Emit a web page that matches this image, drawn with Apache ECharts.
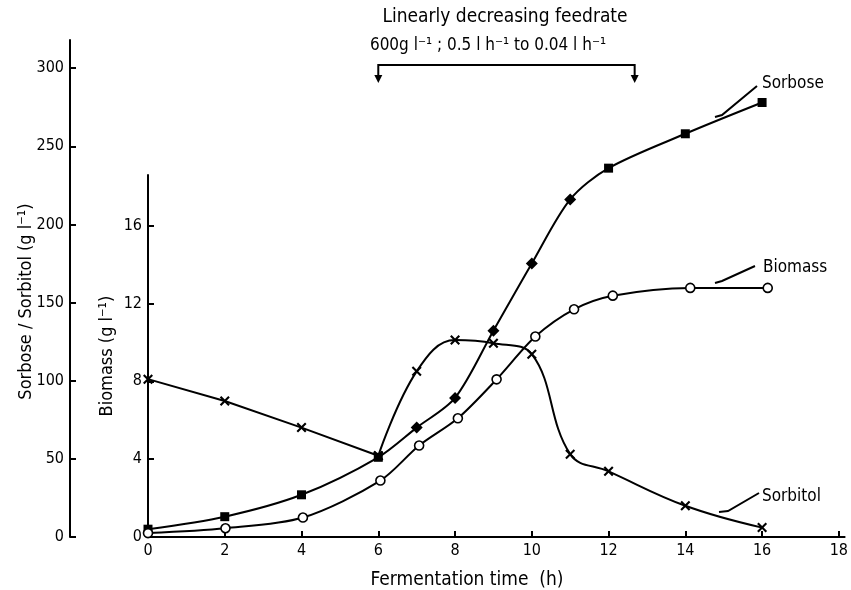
<!DOCTYPE html>
<html><head><meta charset="utf-8">
<script src="https://cdn.jsdelivr.net/npm/echarts@6/dist/echarts.min.js"></script>
<style>html,body{margin:0;padding:0;background:#fff}#c{width:851px;height:590px}</style>
</head><body><div id="c"></div>
<script>
// ---- data ----
const hours    = [0, 2, 4, 6, 7, 8, 9, 10, 11, 12, 14, 16];
const sorbose  = [5, 13, 27, 51, 70, 89, 132, 175, 216, 236, 258, 278];
const sorbitol = [101, 87, 70, 52, 106, 126, 124, 117, 53, 42, 20, 6];
const biomass  = [0.2, 0.45, 1.0, 2.9, 4.7, 6.1, 8.1, 10.3, 11.7, 12.4, 12.8, 12.8];
const xTicks = [0, 2, 4, 6, 8, 10, 12, 14, 16, 18];
const leftTicks = [0, 50, 100, 150, 200, 250, 300];
const bioTicks = [0, 4, 8, 12, 16];
const feedStart = 6, feedEnd = 12.68;

const FONT = "'DejaVu Sans Condensed', 'DejaVu Sans', sans-serif";
const pair = (ys, i0, i1) => hours.slice(i0, i1).map((h, k) => [h, ys.slice(i0, i1)[k]]);

const chart = echarts.init(document.getElementById('c'), null, {renderer: 'canvas'});
const axisCommon = {
  axisLine: {show: true, onZero: false, lineStyle: {color: '#000', width: 2}},
  axisTick: {show: true, inside: true, length: 6, lineStyle: {color: '#000', width: 2}},
  axisLabel: {color: '#000', fontSize: 16, fontFamily: FONT, margin: 6},
  splitLine: {show: false}
};
const xSymbol = 'path://M0,15L15,0L50,35L85,0L100,15L65,50L100,85L85,100L50,65L15,100L0,85L35,50Z';
const blackLine = {color: '#000', width: 2};

chart.setOption({
  animation: false,
  backgroundColor: '#fff',
  grid: [
    {left: 148, right: 0, top: 40, bottom: 53},
    {left: 148, right: 0, top: 175, bottom: 53}
  ],
  xAxis: [
    Object.assign({}, axisCommon, {
      gridIndex: 0, type: 'value', min: 0, max: 18.15,
      axisTick: Object.assign({}, axisCommon.axisTick, {customValues: xTicks}),
      axisLabel: Object.assign({}, axisCommon.axisLabel, {customValues: xTicks})
    }),
    {gridIndex: 1, type: 'value', min: 0, max: 18.15, show: false}
  ],
  yAxis: [
    Object.assign({}, axisCommon, {
      gridIndex: 0, type: 'value', min: 0, max: 318, position: 'left', offset: 78,
      axisTick: Object.assign({}, axisCommon.axisTick, {customValues: leftTicks}),
      axisLabel: Object.assign({}, axisCommon.axisLabel, {customValues: leftTicks}),
      name: 'Sorbose / Sorbitol (g l\u207B\u00B9)', nameLocation: 'middle', nameGap: 35,
      nameMoveOverlap: false,
      nameTextStyle: {color: '#000', fontSize: 18, fontFamily: FONT, padding: [0, 26, 0, 0]}
    }),
    Object.assign({}, axisCommon, {
      gridIndex: 1, type: 'value', min: 0, max: 18.6, position: 'left',
      axisTick: Object.assign({}, axisCommon.axisTick, {customValues: bioTicks}),
      axisLabel: Object.assign({}, axisCommon.axisLabel, {customValues: bioTicks}),
      name: 'Biomass (g l\u207B\u00B9)', nameLocation: 'middle', nameGap: 32,
      nameMoveOverlap: false,
      nameTextStyle: {color: '#000', fontSize: 18, fontFamily: FONT}
    })
  ],
  series: [
    {
      name: 'Sorbose', type: 'line', xAxisIndex: 0, yAxisIndex: 0, smooth: 0.3,
      data: pair(sorbose, 0, hours.length),
      symbol: v => (v[0] >= 7 && v[0] <= 11) ? 'diamond' : 'rect',
      symbolSize: v => (v[0] >= 7 && v[0] <= 11) ? 12 : 9,
      itemStyle: {color: '#000'}, lineStyle: blackLine, z: 3
    },
    {
      name: 'Sorbitol', type: 'line', xAxisIndex: 0, yAxisIndex: 0, smooth: false,
      data: pair(sorbitol, 0, 4),
      symbol: xSymbol, symbolSize: 10, itemStyle: {color: '#000'}, lineStyle: blackLine, z: 3
    },
    {
      name: 'Sorbitol', type: 'line', xAxisIndex: 0, yAxisIndex: 0, smooth: 0.4,
      data: pair(sorbitol, 3, hours.length),
      symbol: xSymbol, symbolSize: 10, itemStyle: {color: '#000'}, lineStyle: blackLine, z: 3
    },
    {
      name: 'Biomass', type: 'line', xAxisIndex: 1, yAxisIndex: 1, smooth: 0.3,
      data: pair(biomass, 0, hours.length),
      symbol: 'circle', symbolSize: 9, showAllSymbol: true,
      itemStyle: {color: '#fff', borderColor: '#000', borderWidth: 1.6},
      lineStyle: blackLine, z: 4
    }
  ]
});

// ---- annotations ----
const x6 = chart.convertToPixel({xAxisIndex: 0}, feedStart);
const xE = chart.convertToPixel({xAxisIndex: 0}, feedEnd);
const txt = (x, y, s, align, size) => ({
  type: 'text', x: x, y: y,
  style: {text: s, fill: '#000', font: (size || 17) + 'px ' + FONT, textAlign: align || 'left', textVerticalAlign: 'middle'}
});
const line = (pts) => ({type: 'polyline', shape: {points: pts}, style: {stroke: '#000', lineWidth: 2, fill: null}});
const arrow = (x, y) => ({type: 'polygon', shape: {points: [[x - 4, y], [x + 4, y], [x, y + 8]]}, style: {fill: '#000'}});
chart.setOption({
  graphic: [
    txt(505, 17, 'Linearly decreasing feedrate', 'center', 19),
    txt(488, 46, '600g l\u207B\u00B9 ; 0.5 l h\u207B\u00B9 to 0.04 l h\u207B\u00B9', 'center', 17),
    line([[x6, 76], [x6, 65], [xE, 65], [xE, 76]]),
    arrow(x6, 75), arrow(xE, 75),
    txt(467, 580, 'Fermentation time  (h)', 'center', 19),
    txt(762, 84, 'Sorbose', 'left', 17),
    line([[757, 86], [722, 115], [715, 117]]),
    txt(763, 268, 'Biomass', 'left', 17),
    line([[755, 266], [722, 281], [715, 283]]),
    txt(762, 497, 'Sorbitol', 'left', 17),
    line([[759, 493], [728, 511], [719, 512]])
  ]
});
</script>
</body></html>
